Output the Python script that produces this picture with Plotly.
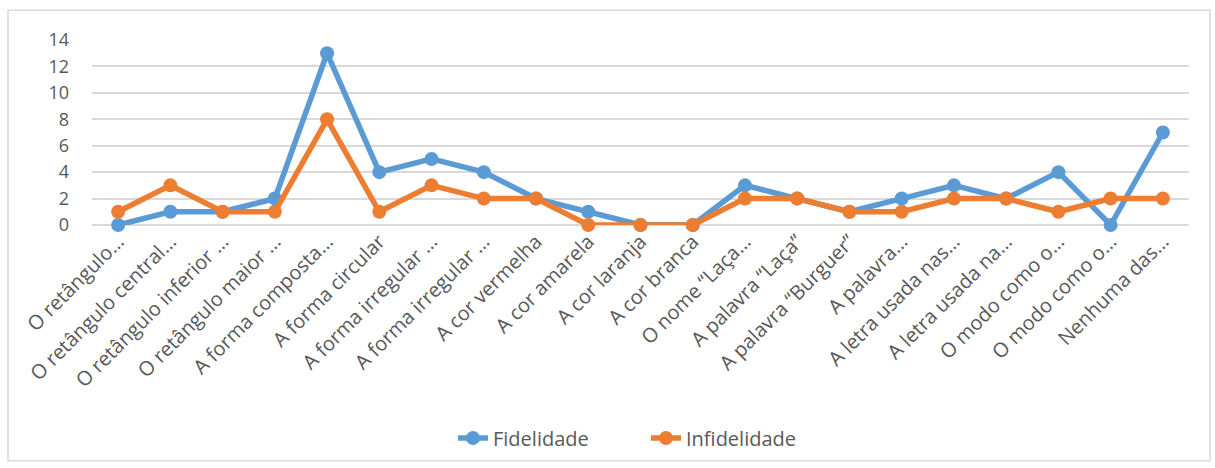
import plotly.graph_objects as go

categories = [
    "O retângulo…", "O retângulo central…", "O retângulo inferior …", "O retângulo maior …",
    "A forma composta…", "A forma circular", "A forma irregular …", "A forma irregular …",
    "A cor vermelha", "A cor amarela", "A cor laranja", "A cor branca",
    "O nome “Laça…", "A palavra “Laça”", "A palavra “Burguer”", "A palavra…",
    "A letra usada nas…", "A letra usada na…", "O modo como o…", "O modo como o…",
    "Nenhuma das…",
]
fidelidade = [0, 1, 1, 2, 13, 4, 5, 4, 2, 1, 0, 0, 3, 2, 1, 2, 3, 2, 4, 0, 7]
infidelidade = [1, 3, 1, 1, 8, 1, 3, 2, 2, 0, 0, 0, 2, 2, 1, 1, 2, 2, 1, 2, 2]
y_ticks = [0, 2, 4, 6, 8, 10, 12, 14]

x_idx = list(range(len(categories)))
font_family = "Open Sans, Carlito, Calibri, sans-serif"
txt = "#595959"

fig = go.Figure()
fig.add_trace(go.Scatter(
    x=x_idx, y=fidelidade, name="Fidelidade", mode="lines+markers",
    line=dict(color="#5B9BD5", width=5.5), marker=dict(size=14, color="#5B9BD5"),
    cliponaxis=False,
))
fig.add_trace(go.Scatter(
    x=x_idx, y=infidelidade, name="Infidelidade", mode="lines+markers",
    line=dict(color="#ED7D31", width=5.5), marker=dict(size=14, color="#ED7D31"),
    cliponaxis=False,
))

L, R, T, B = 92, 26, 40, 242
W, H = 1215, 468
pw, ph = W - L - R, H - T - B

def px_to_paper_x(p):
    return (p - L) / pw

def px_to_paper_y(p):
    return (H - B - p) / ph

fig.update_layout(
    width=W, height=H,
    margin=dict(l=L, r=R, t=T, b=B),
    paper_bgcolor="white", plot_bgcolor="white",
    font=dict(family=font_family, color=txt, size=18),
    showlegend=True,
    legend=dict(
        orientation="h", x=px_to_paper_x(453), xanchor="left",
        y=px_to_paper_y(438), yanchor="middle",
        font=dict(size=20, color=txt),
        entrywidth=148, entrywidthmode="pixels",
    ),
    xaxis=dict(
        range=[-0.5, len(categories) - 0.5],
        tickmode="array", tickvals=x_idx, ticktext=categories,
        tickangle=-45, showgrid=False, zeroline=False, showline=False,
        ticks="", tickfont=dict(size=20, color=txt),
    ),
    yaxis=dict(
        range=[0, 14], tickmode="array", tickvals=y_ticks,
        showgrid=True, gridcolor="#D9D9D9", gridwidth=2,
        zeroline=True, zerolinecolor="#D9D9D9", zerolinewidth=2,
        showline=False, ticks="", tickfont=dict(size=18, color=txt),
        ticklabelstandoff=22,
    ),
    shapes=[dict(
        type="rect", xref="paper", yref="paper",
        x0=px_to_paper_x(8), x1=px_to_paper_x(1210),
        y0=px_to_paper_y(463), y1=px_to_paper_y(10),
        line=dict(color="#D9D9D9", width=1.5), fillcolor="rgba(0,0,0,0)",
        layer="below",
    )],
)

fig.write_html(
    "out.html",
    config={"displayModeBar": False},
    post_script="document.body.style.margin='0';document.body.style.padding='0';",
)
